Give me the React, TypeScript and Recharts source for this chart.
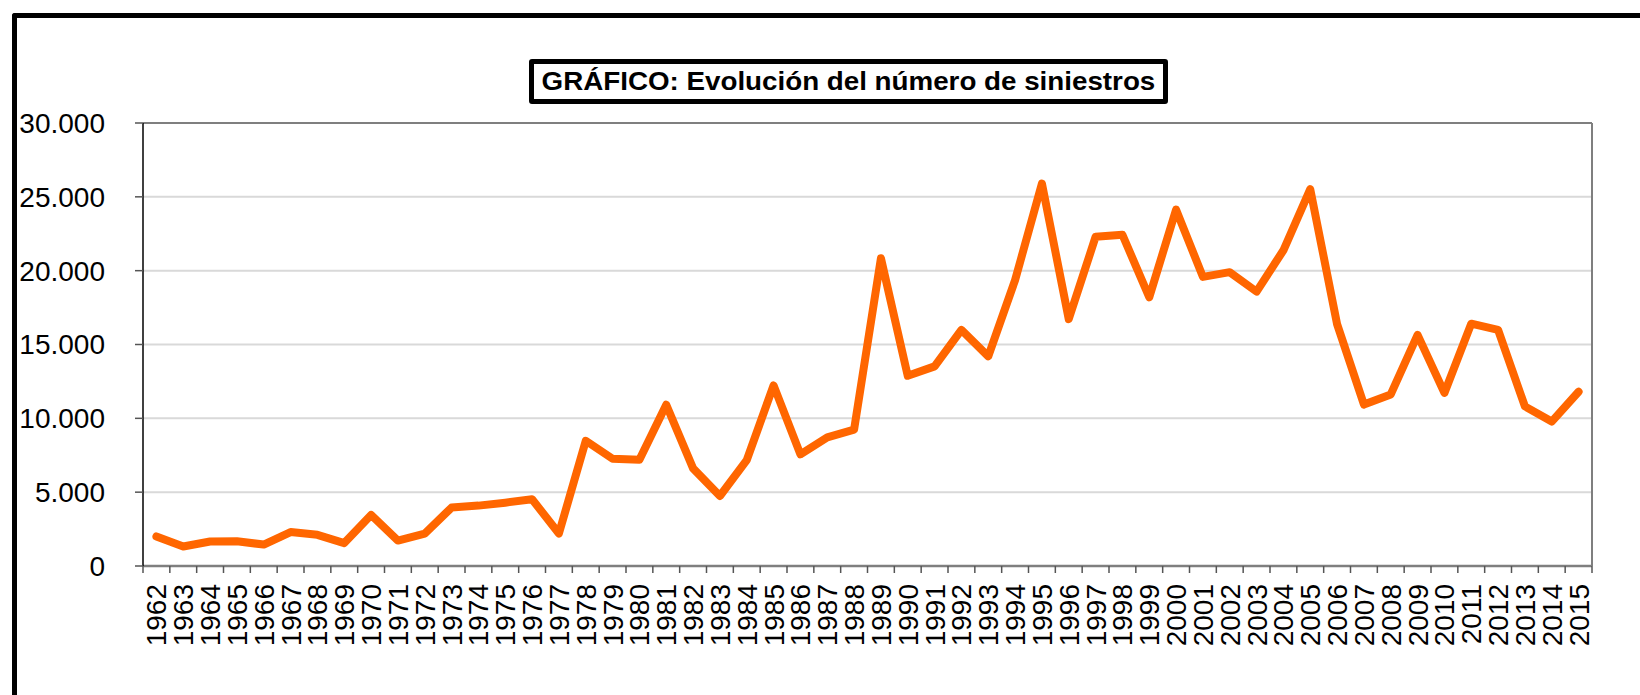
import { LineChart, Line, XAxis, YAxis, CartesianGrid, ReferenceLine } from "recharts";

const FONT = "'Liberation Sans', Arial, sans-serif";

const TITLE = "GRÁFICO: Evolución del número de siniestros";

const YEARS = [
  "1962", "1963", "1964", "1965", "1966", "1967", "1968", "1969", "1970", "1971",
  "1972", "1973", "1974", "1975", "1976", "1977", "1978", "1979", "1980", "1981",
  "1982", "1983", "1984", "1985", "1986", "1987", "1988", "1989", "1990", "1991",
  "1992", "1993", "1994", "1995", "1996", "1997", "1998", "1999", "2000", "2001",
  "2002", "2003", "2004", "2005", "2006", "2007", "2008", "2009", "2010", "2011",
  "2012", "2013", "2014", "2015",
];

const SINIESTROS = [
  2000, 1320, 1660, 1680, 1450, 2300, 2110, 1550, 3460, 1720,
  2200, 3960, 4090, 4290, 4520, 2200, 8480, 7260, 7190, 10920,
  6610, 4740, 7170, 12230, 7560, 8710, 9240, 20840, 12880, 13520,
  15990, 14200, 19360, 25900, 16720, 22290, 22430, 18200, 24130, 19580,
  19900, 18580, 21380, 25520, 16380, 10930, 11620, 15650, 11720, 16410,
  15990, 10810, 9780, 11800,
];

const Y_TICKS = [0, 5000, 10000, 15000, 20000, 25000, 30000];

const data = YEARS.map((year, i) => ({ year, value: SINIESTROS[i] }));

// chart box
const W = 1640;
const H = 695;
const M = { top: 123, right: 48, bottom: 0, left: 0 };
const Y_AXIS_W = 143;
const X_AXIS_H = 129;
const PLOT_W = W - M.left - M.right - Y_AXIS_W;

const fmtThousands = (v: number) => String(v).replace(/\B(?=(\d{3})+(?!\d))/g, ".");

// year label rotated, with tick marks on the band edges (like Excel)
const YearTick = (props: any) => {
  const { x, y, payload, index } = props;
  const half = payload?.offset || PLOT_W / YEARS.length / 2;
  const isLast = (payload?.index ?? index) === YEARS.length - 1;
  return (
    <g>
      <line x1={x - half} y1={y} x2={x - half} y2={y + 7} stroke="#555" strokeWidth={1.5} />
      {isLast && <line x1={x + half} y1={y} x2={x + half} y2={y + 7} stroke="#555" strokeWidth={1.5} />}
      <text
        x={x}
        y={y + 18}
        transform={`rotate(-90, ${x}, ${y + 18})`}
        textAnchor="end"
        dy="0.36em"
        fontSize={28}
        fontFamily={FONT}
        fill="#000"
      >
        {payload.value}
      </text>
    </g>
  );
};

export default function App() {
  return (
    <div style={{ position: "absolute", left: 0, top: 0, width: W, height: H, background: "#fff", overflow: "hidden" }}>
      {/* outer frame, only top and left edges visible */}
      <div
        style={{
          position: "absolute",
          left: 12,
          top: 13,
          width: W + 20,
          height: H + 20,
          borderLeft: "5px solid #000",
          borderTop: "5px solid #000",
          borderTopLeftRadius: 3,
        }}
      />

      <div style={{ position: "absolute", left: 0, top: 0 }}>
        <LineChart width={W} height={H} data={data} margin={M}>
          <CartesianGrid vertical={false} stroke="#d9d9d9" strokeWidth={2} />
          <XAxis
            dataKey="year"
            scale="band"
            interval={0}
            height={X_AXIS_H}
            tickSize={0}
            tickMargin={0}
            tickLine={false}
            axisLine={{ stroke: "#7f7f7f", strokeWidth: 2.5 }}
            tick={<YearTick />}
          />
          <YAxis
            domain={[0, 30000]}
            ticks={Y_TICKS}
            interval={0}
            width={Y_AXIS_W}
            tickSize={8}
            tickMargin={30}
            tickFormatter={fmtThousands}
            tick={{ fontSize: 28, fill: "#000", fontFamily: FONT }}
            tickLine={{ stroke: "#555", strokeWidth: 1.5 }}
            axisLine={{ stroke: "#000", strokeWidth: 1.5 }}
          />
          <ReferenceLine y={30000} stroke="#7f7f7f" strokeWidth={2} />
          <ReferenceLine x="2015" position="end" stroke="#7f7f7f" strokeWidth={2} />
          <Line
            type="linear"
            dataKey="value"
            stroke="#ff6600"
            strokeWidth={8}
            strokeLinejoin="round"
            strokeLinecap="round"
            dot={false}
            isAnimationActive={false}
          />
        </LineChart>
      </div>

      {/* title box */}
      <div
        style={{
          position: "absolute",
          left: 529,
          top: 59,
          width: 639,
          height: 45,
          boxSizing: "border-box",
          border: "5px solid #000",
          borderRadius: 3,
          background: "#fff",
          display: "flex",
          alignItems: "center",
          justifyContent: "center",
        }}
      >
        <span
          style={{
            fontFamily: FONT,
            fontWeight: "bold",
            fontSize: 25,
            whiteSpace: "nowrap",
            transform: "scaleX(1.11)",
            transformOrigin: "center",
            display: "inline-block",
            color: "#000",
          }}
        >
          {TITLE}
        </span>
      </div>
    </div>
  );
}
